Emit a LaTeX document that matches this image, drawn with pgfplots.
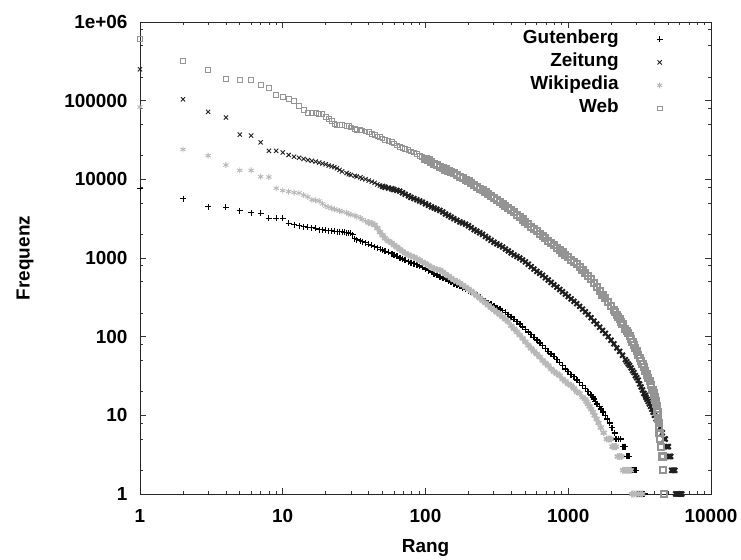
\documentclass[border=0pt]{standalone}
\usepackage{fontspec}
\setmainfont{Liberation Sans}
\usepackage{pgfplots}
\pgfplotsset{compat=1.18}
\usepackage{pgfplotstable}

\pgfplotstableread{
r f
1 7700
2 5700
3 4500
4 4450
5 4000
6 3770
7 3700
8 3200
9 3200
10 3200
11 2780
12 2660
13 2580
14 2500
15 2450
16 2420
17 2380
18 2300
19 2280
20 2250
21 2230
22 2210
23 2180
24 2170
25 2160
26 2150
27 2140
28 2100
29 2080
30 2060
31 1980
32 1750
33 1700
35 1650
36 1610
38 1560
40 1500
42 1450
44 1400
46 1350
48 1290
50 1259
52 1216
55 1175
58 1135
60 1096
63 1047
66 1000
69 966
72 933
76 902
79 871
83 851
87 822
91 794
95 759
100 724
105 692
110 661
115 631
120 603
126 575
132 556
138 537
145 513
151 490
158 473
166 452
174 437
182 417
191 398
200 385
209 367
219 351
229 335
240 316
251 302
263 285
275 269
288 257
302 245
316 234
331 224
347 214
363 204
380 191
398 178
417 166
437 155
457 145
479 133
501 123
525 114
550 106
575 98
603 90
631 83
661 77
692 71
724 65
759 60
794 56
832 51
871 47
912 43
955 39
1000 36
1047 33
1096 31
1148 28
1202 26
1259 24
1318 22
1380 20
1445 18
1480 17
1514 16
1550 15
1585 14
1660 13
1700 12
1760 11
1820 10
1880 9
1950 8
2030 7
2110 6
2170 5
2250 5
2330 5
2400 4
2460 4
2510 4
2570 3
2630 3
2680 3
2740 2
2810 2
2880 2
2950 2
3000 2
3060 1
3140 1
3220 1
3300 1
3380 1
3430 1
}\gut

\pgfplotstableread{
r f
1 250000
2 104000
3 72000
4 61000
5 37000
6 36000
7 29500
8 23000
9 23000
10 22000
11 20400
12 19400
13 18800
14 18200
15 17600
16 17200
17 16800
18 16300
19 15900
20 15500
21 14960
22 14620
23 14290
24 13800
25 13180
26 12590
28 12020
29 11610
30 11350
32 11090
33 10840
35 10590
36 10230
38 10000
40 9660
42 9330
44 9020
46 8610
48 8320
50 8130
52 7940
55 7760
58 7590
60 7410
63 7240
66 7080
69 6760
72 6460
76 6170
79 5890
83 5690
87 5500
91 5310
95 5130
100 4900
105 4680
110 4470
115 4320
120 4170
126 4030
132 3850
138 3630
145 3470
151 3310
158 3160
166 3020
174 2880
182 2790
191 2690
200 2570
209 2430
219 2290
229 2190
240 2090
251 2000
263 1880
275 1780
288 1680
302 1585
316 1514
331 1445
347 1380
363 1300
380 1230
398 1160
417 1096
437 1047
457 1000
479 944
501 891
525 832
550 776
575 724
603 676
631 638
661 603
692 562
724 525
759 490
794 457
832 427
871 398
912 372
955 347
1000 324
1047 302
1096 282
1148 263
1202 243
1259 224
1318 207
1380 191
1445 174
1514 158
1585 145
1660 132
1738 120
1820 110
1905 100
1995 90
2089 81
2188 72
2291 65
2399 58
2512 51
2570 48
2630 45
2692 43
2754 40
2818 37
2884 35
2951 32
3020 30
3090 28
3162 25
3236 23
3311 21
3388 19
3467 18
3500 17
3560 16
3630 15
3700 14
3770 13
3850 12
3930 11
4020 10
4120 9
4250 8
4400 7
4560 6
4720 5
4780 5
4880 4
4960 4
5030 4
5080 3
5150 3
5220 3
5300 2
5400 2
5500 2
5580 2
5650 1
5750 1
5850 1
5950 1
6050 1
6150 1
6250 1
}\zei

\pgfplotstableread{
r f
1 83000
2 24000
3 20000
4 15200
5 13000
6 13000
7 10800
8 10700
9 7700
10 7200
11 7000
12 6800
13 6700
14 6300
15 6000
16 5500
17 5400
18 5300
19 4900
20 4571
21 4416
22 4266
23 4169
24 4074
25 3981
26 3890
28 3758
29 3631
30 3548
32 3467
33 3350
35 3236
36 3090
38 2951
40 2818
42 2754
44 2630
46 2399
48 2138
50 1950
52 1778
55 1641
58 1549
60 1462
63 1380
66 1288
69 1216
72 1148
76 1096
79 1059
83 1023
87 977
91 933
95 891
100 851
105 804
110 759
115 733
120 716
126 700
132 661
138 624
145 589
151 556
158 525
166 501
174 479
182 452
191 427
200 403
209 380
219 355
229 331
240 309
251 288
263 269
275 251
288 234
302 219
316 204
331 191
347 178
363 166
380 155
398 138
417 126
437 115
457 105
479 95
501 86
525 78
550 71
575 65
603 60
631 55
661 50
692 46
724 43
759 39
794 36
832 34
871 32
912 29
955 27
1000 25
1047 24
1096 22
1148 20
1202 19
1259 17
1318 16
1340 15
1370 14
1410 13
1450 12
1490 11
1530 10
1580 9
1630 8
1690 7
1770 6
1860 5
1930 5
1990 5
2040 4
2100 4
2160 4
2220 3
2290 3
2360 3
2420 2
2500 2
2580 2
2660 2
2740 2
2800 1
2900 1
3000 1
3100 1
3200 1
3300 1
}\wik

\pgfplotstableread{
r f
1 610000
2 320000
3 248000
4 187000
5 183000
6 183000
7 160000
8 145000
9 117000
10 111000
11 105000
12 100000
13 86000
14 77000
15 69000
16 69000
17 69000
18 68000
19 68000
20 61700
21 58900
22 55000
23 50100
24 49000
25 49000
26 49000
28 47900
29 47900
30 45700
32 43650
33 42700
35 42200
36 41700
38 40700
40 39800
42 38000
44 36300
46 35100
48 34300
50 33100
52 32000
55 30900
58 29900
60 28500
63 26900
66 26000
69 25100
72 24300
76 23400
79 22600
83 21900
87 21100
91 19950
95 19050
100 18200
105 17400
110 16600
115 15850
120 15100
126 14450
132 13800
138 13340
145 12900
151 12450
158 11900
166 11350
174 10840
182 10350
191 9890
200 9510
209 9020
219 8510
229 8040
240 7590
251 7240
263 6840
275 6460
288 6170
302 5820
316 5500
331 5190
347 4900
363 4620
380 4370
398 4070
417 3800
437 3550
457 3310
479 3090
501 2880
525 2690
550 2510
575 2340
603 2190
631 2040
661 1905
692 1780
724 1660
759 1550
794 1445
832 1350
871 1260
912 1175
955 1096
1000 1023
1047 955
1096 891
1148 832
1202 776
1259 708
1318 646
1380 589
1445 537
1514 479
1585 427
1660 380
1738 339
1820 309
1905 275
1995 245
2089 219
2140 205
2188 191
2240 178
2291 166
2340 155
2399 145
2512 126
2570 117
2630 110
2692 101
2754 93
2818 85
2884 78
2951 71
3020 65
3090 59
3162 54
3236 49
3311 45
3388 41
3467 37
3548 33
3631 30
3715 27
3802 24
3890 21
3981 19
4010 18
4040 17
4070 16
4100 15
4130 14
4160 13
4190 12
4220 11
4250 10
4280 9
4310 8
4340 7
4360 6
4380 5
4470 4
4570 3
4630 2
4710 1
}\web

\definecolor{wikgray}{gray}{0.72}
\definecolor{webgray}{gray}{0.58}
\definecolor{zeiblack}{gray}{0.12}

\pgfplotsset{
  myleg/.style={legend image code/.code={%
    \path[draw=none,fill=none] (0bp,0bp) -- (76bp,0bp);
    \draw[##1] plot coordinates {(38bp,0bp)};}},
}

\begin{document}
\begin{tikzpicture}
\begin{axis}[
  name=ax,
  scale only axis,
  width=571bp, height=472bp,
  xmode=log, ymode=log,
  xmin=1, xmax=10000, ymin=1, ymax=1000000,
  xtick={1,10,100,1000,10000},
  xticklabels={1,10,100,1000,10000},
  ytick={1,10,100,1000,10000,100000,1000000},
  yticklabels={1,10,100,1000,10000,100000,1e+06},
  minor ytick={2,5,8,20,50,80,200,500,800,2000,5000,8000,20000,50000,80000,200000,500000,800000},
  tick align=inside,
  major tick length=6bp, minor tick length=3bp,
  axis line style={black!85, line width=0.8bp},
  tick style={black!80, line width=0.6bp},
  ticklabel style={font=\fontsize{19}{22}\selectfont\bfseries},
  xticklabel style={yshift=-12bp},
  yticklabel style={xshift=-9bp},
  xlabel={Rang}, ylabel={Frequenz},
  label style={font=\fontsize{19}{22}\selectfont\bfseries},
  xlabel style={at={(axis description cs:0.5,-0.1144)}, anchor=center},
  ylabel style={at={(axis description cs:-0.2014,0.5)}, anchor=center},
  legend cell align=right,
  legend plot pos=right,
  legend style={draw=none, fill=none, inner sep=0pt,
    at={(axis description cs:0.977,0.988)}, anchor=north east,
    font=\fontsize{19}{22}\selectfont\bfseries,
    nodes={inner xsep=3bp, inner ysep=3bp, text height=13bp, text depth=4bp},
    row sep=0pt},
]
% Gutenberg
\addplot[only marks, mark=+, mark size=3bp, black, mark options={line width=0.9bp}, myleg] table[x=r,y=f] {\gut};
\addlegendentry{Gutenberg}
\addplot[forget plot, only marks, mark=+, mark size=3bp, black, mark options={line width=1.6bp}, skip coords between index={0}{41}] table[x=r,y=f] {\gut};
% Zeitung
\addplot[only marks, mark=x, mark size=3bp, zeiblack, mark options={line width=0.9bp}, myleg] table[x=r,y=f] {\zei};
\addlegendentry{Zeitung}
\addplot[forget plot, only marks, mark=x, mark size=3.4bp, zeiblack, mark options={line width=1.9bp}, skip coords between index={0}{39}] table[x=r,y=f] {\zei};
% Wikipedia
\addplot[only marks, mark=asterisk, mark size=3bp, wikgray, mark options={line width=0.9bp}, myleg] table[x=r,y=f] {\wik};
\addlegendentry{Wikipedia}
\addplot[forget plot, only marks, mark=asterisk, mark size=3.4bp, wikgray, mark options={line width=1.7bp}, skip coords between index={0}{34}] table[x=r,y=f] {\wik};
% Web
\addplot[only marks, mark=square, mark size=2.4bp, webgray, mark options={line width=0.9bp}, myleg] table[x=r,y=f] {\web};
\addlegendentry{Web}
\addplot[forget plot, only marks, mark=square, mark size=3bp, webgray, mark options={line width=2.1bp}, skip coords between index={0}{54}] table[x=r,y=f] {\web};
\end{axis}
\pgfresetboundingbox
\path ([xshift=-140bp,yshift=-66bp]ax.south west) rectangle ([xshift=30bp,yshift=22bp]ax.north east);
\end{tikzpicture}
\end{document}
